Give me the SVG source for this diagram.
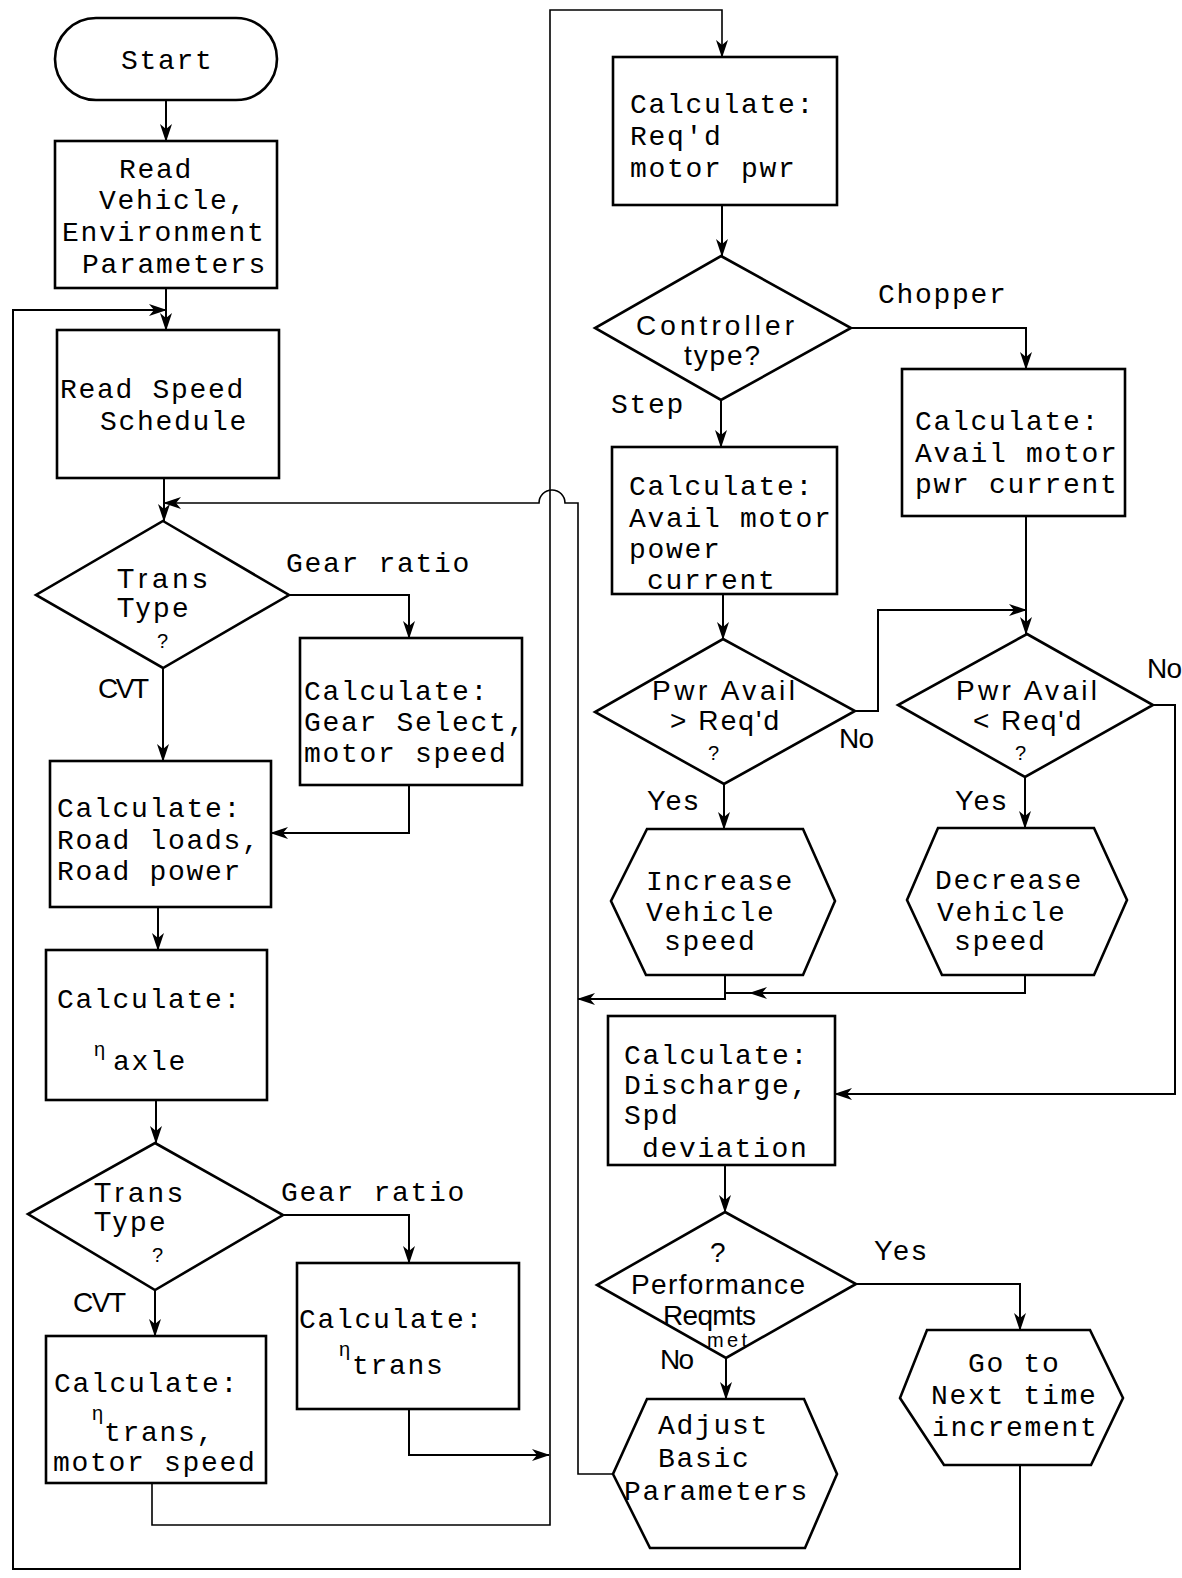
<svg xmlns="http://www.w3.org/2000/svg" width="1182" height="1578" viewBox="0 0 1182 1578">
<defs>
<style>
.n{fill:#fff;stroke:#000;stroke-width:2.6}
.c{fill:none;stroke:#000;stroke-width:2}
.l{fill:none;stroke:#000;stroke-width:1.6}
.t{font-family:"Liberation Mono","DejaVu Sans Mono",monospace;font-size:28px;letter-spacing:1.7px;fill:#000}
.s{font-family:"Liberation Sans","DejaVu Sans",sans-serif;font-size:28px;fill:#000}
.q{font-family:"Liberation Sans","DejaVu Sans",sans-serif;font-size:20px;fill:#000}
</style>
<marker id="a" markerWidth="18" markerHeight="12" refX="17" refY="6" orient="auto" markerUnits="userSpaceOnUse"><path d="M0,0 L18,6 L0,12 L5,6 z" fill="#000"/></marker>
</defs>
<rect width="1182" height="1578" fill="#fff"/>
<g id="connectors">
<path class="c" d="M166,100 V141" marker-end="url(#a)"/>
<path class="c" d="M166,288 V330" marker-end="url(#a)"/>
<path class="c" d="M1020,1465 V1569 H13 V310 H166" marker-end="url(#a)"/>
<path class="c" d="M164,478 V521" marker-end="url(#a)"/>
<path class="l" d="M613,1474 H578 V503 H565 A13,13 0 0 0 539,503 H164" marker-end="url(#a)"/>
<path class="c" d="M289,595 H409 V638" marker-end="url(#a)"/>
<path class="c" d="M163,668 V761" marker-end="url(#a)"/>
<path class="c" d="M409,785 V833 H271" marker-end="url(#a)"/>
<path class="c" d="M158,907 V950" marker-end="url(#a)"/>
<path class="c" d="M156,1100 V1143" marker-end="url(#a)"/>
<path class="c" d="M283,1215 H409 V1263" marker-end="url(#a)"/>
<path class="c" d="M155,1290 V1336" marker-end="url(#a)"/>
<path class="c" d="M409,1409 V1455 H549" marker-end="url(#a)"/>
<path class="l" d="M152,1483 V1525 H550 V10 H722 V57" marker-end="url(#a)"/>
<path class="c" d="M722,205 V256" marker-end="url(#a)"/>
<path class="c" d="M851,328 H1026 V369" marker-end="url(#a)"/>
<path class="c" d="M721,400 V447" marker-end="url(#a)"/>
<path class="c" d="M723,594 V639" marker-end="url(#a)"/>
<path class="c" d="M855,711 H878 V610 H1026" marker-end="url(#a)"/>
<path class="c" d="M1026,516 V634" marker-end="url(#a)"/>
<path class="c" d="M1153,705 H1175 V1094 H835" marker-end="url(#a)"/>
<path class="c" d="M724,784 V829" marker-end="url(#a)"/>
<path class="c" d="M1025,777 V828" marker-end="url(#a)"/>
<path class="c" d="M725,975 V999 H578" marker-end="url(#a)"/>
<path class="c" d="M1025,975 V993 H750" marker-end="url(#a)"/>
<path class="c" d="M752,993 H725"/>
<path class="c" d="M725,1165 V1212" marker-end="url(#a)"/>
<path class="c" d="M856,1284 H1020 V1330" marker-end="url(#a)"/>
<path class="c" d="M726,1358 V1399" marker-end="url(#a)"/>
</g>
<g id="start"><rect class="n" x="55" y="18" width="222" height="82" rx="41"/><text class="t" x="121" y="69">Start</text></g>
<g id="read-vehicle"><rect class="n" x="55" y="141" width="222" height="147"/>
<text class="t" x="119" y="178">Read</text><text class="t" x="99" y="209">Vehicle,</text><text class="t" x="62" y="241">Environment</text><text class="t" x="82" y="273">Parameters</text></g>
<g id="read-speed"><rect class="n" x="57" y="330" width="222" height="148"/>
<text class="t" x="60" y="398">Read Speed</text><text class="t" x="100" y="430">Schedule</text></g>
<g id="trans-type-1"><polygon class="n" points="163,521 289,595 163,668 36,595"/>
<text class="s" x="117" y="588" textLength="90">Trans</text><text class="s" x="117" y="617" textLength="71">Type</text><text class="q" x="157" y="648">?</text></g>
<text class="t" x="286" y="572">Gear ratio</text>
<text class="s" x="98" y="698" textLength="51">CVT</text>
<g id="gear-select"><rect class="n" x="300" y="638" width="222" height="147"/>
<text class="t" x="304" y="700">Calculate:</text><text class="t" x="304" y="731">Gear Select,</text><text class="t" x="304" y="762">motor speed</text></g>
<g id="road-loads"><rect class="n" x="50" y="761" width="221" height="146"/>
<text class="t" x="57" y="817">Calculate:</text><text class="t" x="57" y="849">Road loads,</text><text class="t" x="57" y="880">Road power</text></g>
<g id="axle"><rect class="n" x="46" y="950" width="221" height="150"/>
<text class="t" x="57" y="1008">Calculate:</text><text class="q" x="94" y="1056">η</text><text class="t" x="113" y="1070">axle</text></g>
<g id="trans-type-2"><polygon class="n" points="155,1143 283,1215 155,1290 28,1214"/>
<text class="s" x="94" y="1202" textLength="88">Trans</text><text class="s" x="94" y="1231" textLength="71">Type</text><text class="q" x="152" y="1262">?</text></g>
<text class="t" x="281" y="1201">Gear ratio</text>
<text class="s" x="73" y="1312" textLength="53">CVT</text>
<g id="trans-gear"><rect class="n" x="297" y="1263" width="222" height="146"/>
<text class="t" x="299" y="1328">Calculate:</text><text class="q" x="339" y="1356">η</text><text class="t" x="352" y="1374">trans</text></g>
<g id="trans-cvt"><rect class="n" x="46" y="1336" width="220" height="147"/>
<text class="t" x="54" y="1392">Calculate:</text><text class="q" x="92" y="1420">η</text><text class="t" x="104" y="1441">trans,</text><text class="t" x="53" y="1471">motor speed</text></g>
<g id="reqd-power"><rect class="n" x="613" y="57" width="224" height="148"/>
<text class="t" x="630" y="113">Calculate:</text><text class="t" x="630" y="145">Req'd</text><text class="t" x="630" y="177">motor pwr</text></g>
<g id="controller"><polygon class="n" points="721,256 851,328 721,400 595,328"/>
<text class="s" x="636" y="335" textLength="158">Controller</text><text class="s" x="684" y="365" textLength="76">type?</text></g>
<text class="t" x="878" y="303">Chopper</text>
<text class="t" x="611" y="413">Step</text>
<g id="chopper-current"><rect class="n" x="902" y="369" width="223" height="147"/>
<text class="t" x="915" y="430">Calculate:</text><text class="t" x="915" y="462">Avail motor</text><text class="t" x="915" y="493">pwr current</text></g>
<g id="step-current"><rect class="n" x="612" y="447" width="225" height="147"/>
<text class="t" x="629" y="495">Calculate:</text><text class="t" x="629" y="527">Avail motor</text><text class="t" x="629" y="558">power</text><text class="t" x="647" y="589">current</text></g>
<g id="pwr-gt"><polygon class="n" points="723,639 855,711 724,784 595,712"/>
<text class="s" x="652" y="700" textLength="143">Pwr Avail</text><text class="s" x="670" y="730" textLength="109">&gt; Req'd</text><text class="q" x="708" y="760">?</text></g>
<text class="s" x="839" y="748" textLength="35">No</text>
<text class="s" x="647" y="810" textLength="51">Yes</text>
<g id="pwr-lt"><polygon class="n" points="1027,634 1153,705 1025,777 898,705"/>
<text class="s" x="956" y="700" textLength="141">Pwr Avail</text><text class="s" x="973" y="730" textLength="108">&lt; Req'd</text><text class="q" x="1015" y="760">?</text></g>
<text class="s" x="1147" y="678" textLength="35">No</text>
<text class="s" x="955" y="810" textLength="51">Yes</text>
<g id="increase"><polygon class="n" points="647,829 803,829 835,901 803,975 646,975 611,901"/>
<text class="t" x="646" y="890">Increase</text><text class="t" x="646" y="921">Vehicle</text><text class="t" x="664" y="950">speed</text></g>
<g id="decrease"><polygon class="n" points="938,828 1094,828 1127,900 1094,975 942,975 907,900"/>
<text class="t" x="935" y="889">Decrease</text><text class="t" x="937" y="921">Vehicle</text><text class="t" x="954" y="950">speed</text></g>
<g id="discharge"><rect class="n" x="608" y="1016" width="227" height="149"/>
<text class="t" x="624" y="1064">Calculate:</text><text class="t" x="624" y="1094">Discharge,</text><text class="t" x="624" y="1124">Spd</text><text class="t" x="642" y="1157">deviation</text></g>
<g id="performance"><polygon class="n" points="725,1212 856,1284 726,1358 597,1285"/>
<text class="s" x="710" y="1262">?</text><text class="s" x="631" y="1294" textLength="174">Performance</text><text class="s" x="663" y="1325" textLength="93">Reqmts</text><text class="q" x="707" y="1347" textLength="40">met</text></g>
<text class="s" x="874" y="1260" textLength="52">Yes</text>
<text class="s" x="660" y="1369" textLength="34">No</text>
<g id="adjust"><polygon class="n" points="647,1399 804,1399 837,1474 805,1548 650,1548 613,1474"/>
<text class="t" x="658" y="1434">Adjust</text><text class="t" x="658" y="1467">Basic</text><text class="t" x="624" y="1500">Parameters</text></g>
<g id="next-time"><polygon class="n" points="927,1330 1090,1330 1123,1398 1091,1465 944,1465 900,1398"/>
<text class="t" x="968" y="1372">Go to</text><text class="t" x="931" y="1404">Next time</text><text class="t" x="932" y="1436">increment</text></g>
</svg>
